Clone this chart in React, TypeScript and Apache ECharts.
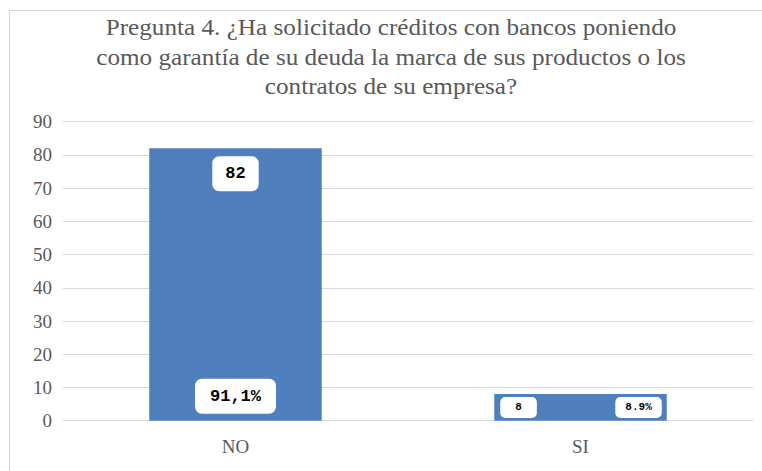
import React, { useEffect, useRef } from "react";
import * as echarts from "echarts";

const categories = ["NO", "SI"];
const counts = [82, 8];
const percentLabels = ["91,1%", "8.9%"];
const yTicks = { min: 0, max: 90, interval: 10 };
const titleLines = [
  "Pregunta 4. ¿Ha solicitado créditos con bancos poniendo",
  "como garantía de su deuda la marca de sus productos o los",
  "contratos de su empresa?",
];

const BAR = "#4f80bd";
const TXT = "#595959";
const GRID = "#d9d9d9";
const SERIF = "Liberation Serif";
const MONO = "Liberation Mono";

export default function App() {
  const ref = useRef<HTMLDivElement>(null);
  useEffect(() => {
    if (!ref.current) return;
    const chart = echarts.init(ref.current, undefined, { renderer: "svg" });
    const bigBox = {
      show: true,
      color: "#000",
      fontFamily: MONO,
      fontWeight: "bold",
      fontSize: 17,
      backgroundColor: "#fff",
      borderRadius: 7,
      padding: [9, 13, 9, 13],
    };
    const smallBox = {
      show: true,
      color: "#000",
      fontFamily: MONO,
      fontWeight: "bold",
      fontSize: 11,
      backgroundColor: "#fff",
      borderRadius: 5,
      padding: [5, 15, 5, 15],
    };
    chart.setOption({
      animation: false,
      backgroundColor: "#fff",
      graphic: [
        {
          type: "rect",
          shape: { x: 9.5, y: 10.5, width: 800, height: 500 },
          style: { fill: "none", stroke: "#d6d6d6", lineWidth: 1 },
          silent: true,
          z: 0,
        },
        {
          type: "text",
          x: 391,
          y: 12,
          scaleX: 1.05,
          style: {
            text: titleLines.join("\n"),
            textAlign: "center",
            textVerticalAlign: "top",
            fontFamily: SERIF,
            fontSize: 24,
            lineHeight: 29.5,
            fill: TXT,
          },
          z: 10,
        },
      ],
      grid: { left: 63, right: 9, top: 121.7, bottom: 50.3, containLabel: false },
      xAxis: {
        type: "category",
        data: categories,
        axisTick: { show: false },
        axisLine: { show: true, lineStyle: { color: GRID, width: 1 } },
        axisLabel: {
          color: TXT,
          fontFamily: SERIF,
          fontSize: 19,
          margin: 16,
        },
      },
      yAxis: {
        type: "value",
        min: yTicks.min,
        max: yTicks.max,
        interval: yTicks.interval,
        axisLine: { show: false },
        axisTick: { show: false },
        splitLine: { lineStyle: { color: GRID, width: 1 } },
        axisLabel: {
          color: TXT,
          fontFamily: SERIF,
          fontSize: 19,
          margin: 11,
        },
      },
      series: [
        {
          type: "bar",
          barWidth: "50%",
          barGap: "-100%",
          itemStyle: { color: BAR },
          data: counts.map((v, i) => ({
            value: v,
            label:
              i === 0
                ? { ...bigBox, position: "insideTop", distance: 8, formatter: String(v) }
                : { ...smallBox, position: "insideLeft", distance: 6, formatter: String(v) },
          })),
        },
        {
          type: "bar",
          barWidth: "50%",
          barGap: "-100%",
          itemStyle: { color: "rgba(0,0,0,0)" },
          data: counts.map((v, i) => ({
            value: v,
            label:
              i === 0
                ? { ...bigBox, position: "insideBottom", distance: 7, formatter: percentLabels[i], padding: [9, 15, 9, 15] }
                : { ...smallBox, position: "insideRight", distance: 5, formatter: percentLabels[i], padding: [5, 10, 5, 10] },
          })),
        },
      ],
    });
    return () => chart.dispose();
  }, []);
  return (
    <div
      ref={ref}
      style={{ position: "fixed", left: 0, top: 0, width: 762, height: 471 }}
    />
  );
}
